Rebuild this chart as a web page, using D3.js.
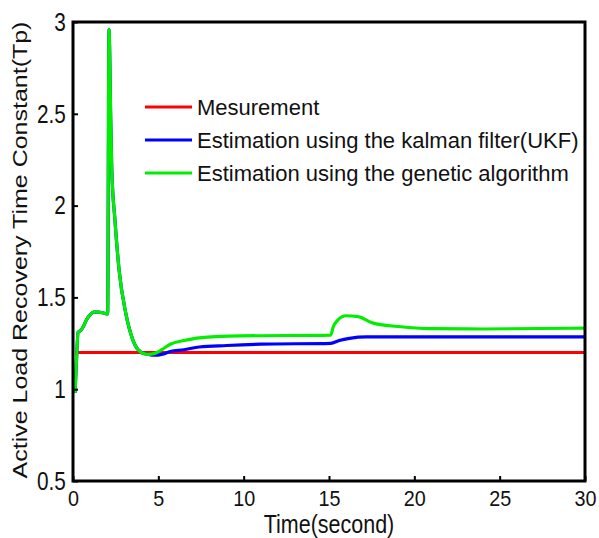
<!DOCTYPE html>
<html>
<head>
<meta charset="utf-8">
<script src="https://cdn.jsdelivr.net/npm/d3@7"></script>
<style>
  body { margin: 0; background: #fff; }
  text { font-family: "Liberation Sans", Arial, sans-serif; }
</style>
</head>
<body>
<script>
const w = 599; // width
const h = 538; // height
const m = { top: 22, right: 14, bottom: 57, left: 73 };

// data
const xTicks = [0, 5, 10, 15, 20, 25, 30];
const yTicks = [0.5, 1, 1.5, 2, 2.5, 3];
const labels = ["Mesurement", "Estimation using the kalman filter(UKF)", "Estimation using the genetic algorithm"];
const colors = ["#ff0000", "#0000ff", "#00ee00"];

const measT = [0.12, 30];
const measV = [1.2, 1.2];

const ukfT = [0.12, 0.2, 0.3, 0.45, 0.6, 0.8, 1.0, 1.2, 1.5, 1.8, 2.03, 2.11, 2.21, 2.27, 2.46, 2.7, 3.1, 3.5, 4.0, 4.4,
  4.8, 5.2, 5.7, 6.5, 7.4, 9, 11, 15.1, 15.6, 16.2, 17.2, 30];
const ukfV = [0.98, 1.15, 1.31, 1.32, 1.34, 1.38, 1.405, 1.42, 1.42, 1.415, 1.41, 2.96, 2.47, 2.2, 1.92, 1.65, 1.41, 1.27, 1.2, 1.19,
  1.185, 1.19, 1.205, 1.215, 1.23, 1.238, 1.245, 1.25, 1.265, 1.277, 1.285, 1.285];

const gaT = [0.12, 0.2, 0.3, 0.45, 0.6, 0.8, 1.0, 1.2, 1.5, 1.8, 2.03, 2.11, 2.21, 2.27, 2.46, 2.7, 3.1, 3.5, 4.0, 4.4,
  4.8, 5.2, 5.7, 6.5, 7.4, 9.8, 15.1, 15.25, 15.5, 16.0, 16.7, 17.6, 19.2, 20.9, 24, 30];
const gaV = [0.98, 1.15, 1.31, 1.32, 1.34, 1.38, 1.405, 1.42, 1.42, 1.415, 1.41, 2.96, 2.47, 2.2, 1.92, 1.65, 1.41, 1.27, 1.2, 1.19,
  1.195, 1.215, 1.245, 1.265, 1.28, 1.29, 1.295, 1.34, 1.375, 1.40, 1.395, 1.36, 1.34, 1.33, 1.328, 1.333];

const series = [
  { t: measT, v: measV },
  { t: ukfT, v: ukfV },
  { t: gaT, v: gaV }
];

let svg = d3.select("body")
    .append("svg")
    .attr("width", w)
    .attr("height", h);

let x = d3.scaleLinear().domain([0, 30]).range([m.left, w - m.right]);
let y = d3.scaleLinear().domain([0.5, 3]).range([h - m.bottom, m.top]);

// clip to plot area
svg.append("clipPath").attr("id", "clip")
  .append("rect")
    .attr("x", m.left).attr("y", m.top)
    .attr("width", w - m.left - m.right).attr("height", h - m.top - m.bottom);

let line = d3.line()
    .x(d => x(d[0]))
    .y(d => y(d[1]))
    .curve(d3.curveMonotoneX);

series.forEach((s, i) => {
  svg.append("path")
    .datum(s.t.map((t, j) => [t, s.v[j]]))
    .attr("clip-path", "url(#clip)")
    .attr("fill", "none")
    .attr("stroke", colors[i])
    .attr("stroke-width", 3.2)
    .attr("stroke-linejoin", "round")
    .attr("d", line);
});

// x axis
let xa = svg.append("g")
    .attr("transform", `translate(0,${h - m.bottom})`)
    .call(d3.axisBottom(x).tickValues(xTicks).tickSize(-5).tickPadding(9));

// y axis
let ya = svg.append("g")
    .attr("transform", `translate(${m.left},0)`)
    .call(d3.axisLeft(y).tickValues(yTicks).tickSize(-5).tickPadding(9).tickFormat(d3.format("")));

[xa, ya].forEach(g => {
  g.select(".domain").remove();
  g.selectAll(".tick line").attr("stroke", "#000").attr("stroke-width", 2);
  g.selectAll(".tick text").attr("fill", "#111");
});
// the original text looks tall and narrow
xa.selectAll(".tick text").attr("font-size", 22).attr("dy", "0.75em").attr("transform", "scale(0.9,1)");
ya.selectAll(".tick text").attr("font-size", 26).attr("transform", "scale(0.8,1)");

// frame
svg.append("rect")
    .attr("x", m.left).attr("y", m.top)
    .attr("width", w - m.left - m.right).attr("height", h - m.top - m.bottom)
    .attr("fill", "none").attr("stroke", "#000").attr("stroke-width", 3);

// legend
let lg = svg.append("g");
labels.forEach((l, i) => {
  let yy = 107 + i * 33;
  lg.append("line")
    .attr("x1", 145).attr("x2", 192)
    .attr("y1", yy).attr("y2", yy)
    .attr("stroke", colors[i]).attr("stroke-width", 3.2);
  lg.append("text")
    .attr("x", 197).attr("y", yy)
    .attr("dy", "0.36em")
    .attr("font-size", 22)
    .attr("fill", "#111")
    .text(l);
});

// x axis label
svg.append("text")
    .attr("text-anchor", "middle")
    .attr("transform", `translate(${(m.left + w - m.right) / 2},533) scale(0.86,1)`)
    .attr("font-size", 25)
    .attr("fill", "#111")
    .text("Time(second)");

// y axis label
svg.append("text")
    .attr("text-anchor", "middle")
    .attr("transform", `translate(27,250) rotate(-90) scale(1.19,1)`)
    .attr("font-size", 21)
    .attr("fill", "#111")
    .text("Active Load Recovery Time Constant(Tp)");
</script>
</body>
</html>
